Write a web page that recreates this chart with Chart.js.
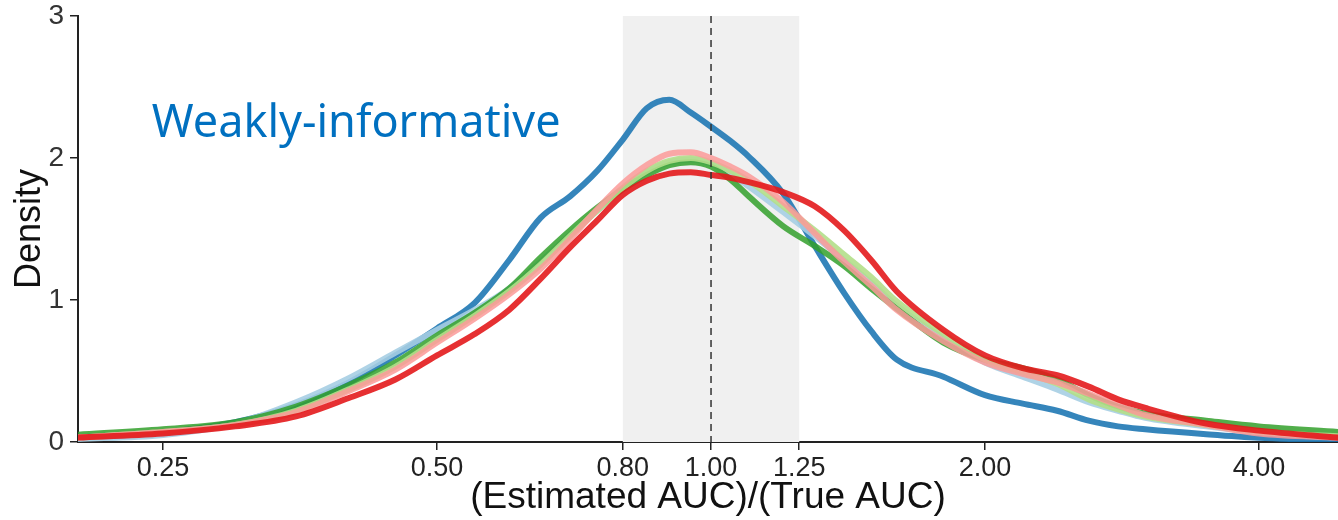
<!DOCTYPE html>
<html>
<head>
<meta charset="utf-8">
<script src="https://cdn.jsdelivr.net/npm/chart.js@4.4.1/dist/chart.umd.min.js"></script>
<style>
  html, body { margin: 0; padding: 0; background: #fff; }
  #wrap { width: 1338px; height: 520px; }
</style>
</head>
<body>
<div id="wrap"><canvas id="myChart" width="1338" height="520"></canvas></div>
<script>
// x values: (Estimated AUC)/(True AUC), log scale
var ratios = [0.2, 0.25, 0.3, 0.35, 0.4, 0.45, 0.5, 0.55, 0.6, 0.65, 0.7, 0.75, 0.8, 0.85, 0.9, 0.95,
  1.0, 1.05, 1.1, 1.2, 1.3, 1.4, 1.5, 1.6, 1.8, 2.0, 2.2, 2.4, 2.6, 2.8, 3.0, 3.5, 4.0, 4.9];

var densBlue = [0.03, 0.07, 0.14, 0.26, 0.42, 0.61, 0.80, 0.98, 1.28, 1.58, 1.73, 1.91, 2.13, 2.35, 2.41, 2.32,
  2.22, 2.12, 2.01, 1.75, 1.38, 1.05, 0.78, 0.58, 0.46, 0.33, 0.27, 0.22, 0.15, 0.11, 0.09, 0.055, 0.03, 0.01];
var densLightBlue = [0.02, 0.05, 0.13, 0.28, 0.45, 0.63, 0.79, 0.93, 1.08, 1.27, 1.46, 1.63, 1.78, 1.90, 1.97, 1.99,
  1.96, 1.89, 1.80, 1.62, 1.45, 1.28, 1.12, 0.96, 0.73, 0.56, 0.46, 0.37, 0.28, 0.22, 0.17, 0.11, 0.07, 0.03];
var densGreen = [0.05, 0.09, 0.14, 0.25, 0.40, 0.56, 0.75, 0.91, 1.08, 1.30, 1.49, 1.65, 1.78, 1.88, 1.95, 1.97,
  1.94, 1.85, 1.73, 1.52, 1.38, 1.24, 1.08, 0.94, 0.70, 0.58, 0.52, 0.44, 0.33, 0.25, 0.20, 0.15, 0.11, 0.07];
var densLightGreen = [0.03, 0.07, 0.12, 0.22, 0.37, 0.53, 0.72, 0.89, 1.06, 1.25, 1.45, 1.63, 1.79, 1.91, 1.98, 2.00,
  1.97, 1.91, 1.84, 1.66, 1.49, 1.32, 1.16, 0.99, 0.76, 0.58, 0.49, 0.41, 0.30, 0.23, 0.18, 0.12, 0.07, 0.04];
var densPink = [0.03, 0.07, 0.12, 0.21, 0.36, 0.51, 0.70, 0.87, 1.04, 1.22, 1.43, 1.64, 1.82, 1.95, 2.03, 2.04,
  2.00, 1.94, 1.87, 1.69, 1.47, 1.27, 1.10, 0.93, 0.71, 0.56, 0.48, 0.42, 0.34, 0.26, 0.19, 0.12, 0.06, 0.03];
var densRed = [0.03, 0.06, 0.11, 0.18, 0.31, 0.44, 0.61, 0.76, 0.93, 1.15, 1.37, 1.56, 1.74, 1.84, 1.89, 1.90,
  1.88, 1.86, 1.83, 1.76, 1.66, 1.49, 1.28, 1.06, 0.79, 0.61, 0.52, 0.47, 0.39, 0.30, 0.24, 0.13, 0.08, 0.03];

var xTickValues = [0.25, 0.5, 0.8, 1.0, 1.25, 2.0, 4.0];
var bandFrom = 0.8, bandTo = 1.25, refLine = 1.0;
var labelText = "Weakly-informative";
var labelX = 0.243, labelY = 2.15;

function pts(ys) {
  return ratios.map(function (r, i) { return { x: r, y: ys[i] }; });
}

// first dataset is drawn on top
var series = [
  { data: densRed, color: 'rgba(227, 26, 28, 0.9)' },
  { data: densPink, color: 'rgba(251, 154, 153, 0.85)' },
  { data: densLightGreen, color: 'rgba(178, 223, 138, 0.9)' },
  { data: densGreen, color: 'rgba(51, 160, 44, 0.85)' },
  { data: densLightBlue, color: 'rgba(166, 206, 227, 0.9)' },
  { data: densBlue, color: 'rgba(31, 120, 180, 0.9)' }
];

var bandPlugin = {
  id: 'band',
  beforeDatasetsDraw: function (chart) {
    var ctx = chart.ctx, a = chart.chartArea, xs = chart.scales.x;
    var x0 = xs.getPixelForValue(bandFrom), x1 = xs.getPixelForValue(bandTo);
    ctx.save();
    ctx.fillStyle = '#f0f0f0';
    ctx.fillRect(x0, a.top, x1 - x0, a.bottom - a.top);
    ctx.restore();
  },
  afterDatasetsDraw: function (chart) {
    var ctx = chart.ctx, a = chart.chartArea, xs = chart.scales.x, ys = chart.scales.y;
    var xr = xs.getPixelForValue(refLine);
    ctx.save();
    ctx.strokeStyle = '#333';
    ctx.lineWidth = 1.5;
    ctx.setLineDash([7, 5]);
    ctx.beginPath();
    ctx.moveTo(xr, a.top);
    ctx.lineTo(xr, a.bottom);
    ctx.stroke();
    ctx.setLineDash([]);
    ctx.fillStyle = '#0070C0';
    ctx.font = '45px "Noto Sans"';
    ctx.textBaseline = 'alphabetic';
    ctx.fillText(labelText, xs.getPixelForValue(labelX), ys.getPixelForValue(labelY));
    ctx.restore();
  }
};

var myChart = new Chart(document.getElementById('myChart'), {
  type: 'line',
  data: {
    datasets: series.map(function (s) {
      return {
        data: pts(s.data),
        borderColor: s.color,
        borderWidth: 6,
        pointRadius: 0,
        fill: false,
        cubicInterpolationMode: 'monotone'
      };
    })
  },
  options: {
    responsive: false,
    animation: false,
    layout: { padding: { top: 16, right: 0, left: 0, bottom: 0 } },
    plugins: { legend: { display: false }, tooltip: { enabled: false } },
    scales: {
      x: {
        type: 'logarithmic',
        min: 0.2016,
        max: 4.885,
        afterBuildTicks: function (scale) {
          scale.ticks = xTickValues.map(function (v) { return { value: v }; });
        },
        afterFit: function (scale) { scale.height = 78; },
        ticks: {
          autoSkip: false,
          maxRotation: 0,
          color: '#222',
          padding: 2,
          font: { family: '"Liberation Sans", Arial', size: 27 },
          callback: function (v) { return Number(v).toFixed(2); }
        },
        grid: { display: true, drawOnChartArea: false, drawTicks: true, tickLength: 8, color: '#222', lineWidth: 1.5 },
        border: { display: true, color: '#222', width: 2 },
        title: {
          display: true,
          text: '(Estimated AUC)/(True AUC)',
          color: '#111',
          padding: { top: -11, bottom: 0 },
          font: { family: '"Liberation Sans", Arial', size: 37 }
        }
      },
      y: {
        min: 0,
        max: 3,
        afterFit: function (scale) {
          scale.width = 78;
          scale.paddingTop = 0;
          scale.paddingBottom = 0;
        },
        ticks: {
          stepSize: 1,
          color: '#333',
          padding: 6,
          font: { family: '"Liberation Sans", Arial', size: 28 }
        },
        grid: { display: true, drawOnChartArea: false, drawTicks: true, tickLength: 8, color: '#222', lineWidth: 1.5 },
        border: { display: true, color: '#222', width: 2 },
        title: {
          display: true,
          text: 'Density',
          color: '#111',
          padding: { top: 8, bottom: -8 },
          font: { family: '"Liberation Sans", Arial', size: 36 }
        }
      }
    }
  },
  plugins: [bandPlugin]
});
</script>
</body>
</html>
